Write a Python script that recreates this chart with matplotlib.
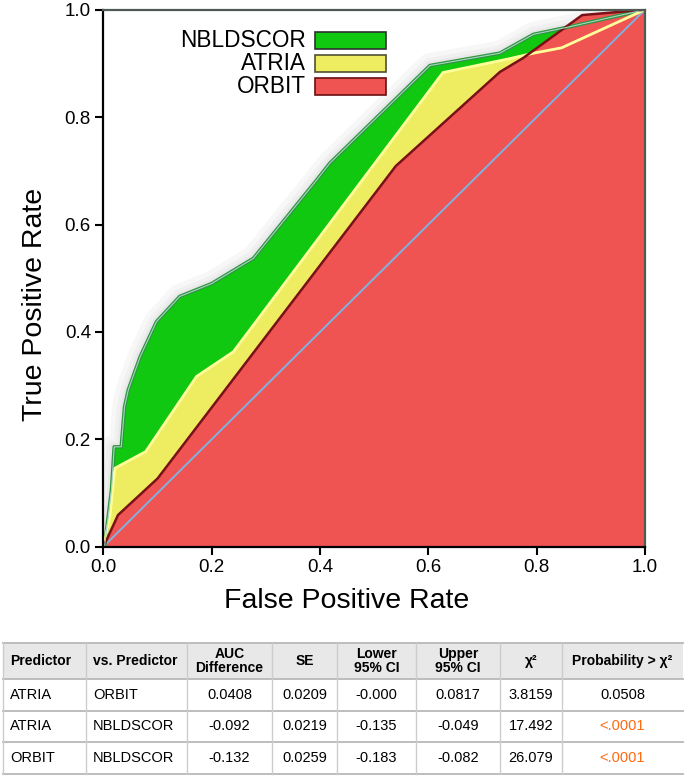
import matplotlib
matplotlib.use("Agg")
import matplotlib.pyplot as plt
from matplotlib.patches import Rectangle
import matplotlib.patheffects as pe

plt.rcParams['font.family'] = ['Liberation Sans', 'DejaVu Sans']

# ---- ROC curve data ----
nbl_fpr = [0.0, 0.002, 0.015, 0.020, 0.033, 0.039, 0.046, 0.068, 0.098, 0.141, 0.20, 0.277, 0.394, 0.418, 0.603, 0.732, 0.794, 0.855, 1.0]
nbl_tpr = [0.0, 0.0, 0.106, 0.186, 0.186, 0.26, 0.292, 0.354, 0.419, 0.466, 0.49, 0.537, 0.683, 0.714, 0.896, 0.919, 0.954, 0.967, 1.0]

atr_fpr = [0.0, 0.012, 0.021, 0.078, 0.172, 0.240, 0.627, 0.751, 0.794, 0.846, 1.0]
atr_tpr = [0.0, 0.056, 0.146, 0.177, 0.317, 0.363, 0.883, 0.909, 0.919, 0.929, 1.0]

orb_fpr = [0.0, 0.027, 0.100, 0.540, 0.732, 0.775, 0.884, 1.0]
orb_tpr = [0.0, 0.059, 0.127, 0.709, 0.884, 0.910, 0.990, 1.0]

legend_labels = ["NBLDSCOR", "ATRIA", "ORBIT"]
ticks = [0.0, 0.2, 0.4, 0.6, 0.8, 1.0]

# ---- table data ----
col_headers = ["Predictor", "vs. Predictor", "AUC\nDifference", "SE", "Lower\n95% CI", "Upper\n95% CI", "χ²", "Probability > χ²"]
predictor = ["ATRIA", "ATRIA", "ORBIT"]
vs_predictor = ["ORBIT", "NBLDSCOR", "NBLDSCOR"]
auc_diff = ["0.0408", "-0.092", "-0.132"]
se = ["0.0209", "0.0219", "0.0259"]
lower_ci = ["-0.000", "-0.135", "-0.183"]
upper_ci = ["0.0817", "-0.049", "-0.082"]
chi2 = ["3.8159", "17.492", "26.079"]
prob = ["0.0508", "<.0001", "<.0001"]

GREEN = "#10c810"
YELLOW = "#eeec60"
RED = "#ef5352"

W, H = 685, 783
fig = plt.figure(figsize=(W / 100, H / 100), dpi=100)

AX_W, AX_H = 541.6, 537.0
ax = fig.add_axes([103.4 / W, 1 - 546.7 / H, AX_W / W, AX_H / H])
ax.set_xlim(0, 1)
ax.set_ylim(0, 1)

# soft glow behind the curves
ax.plot(nbl_fpr, nbl_tpr, color="#e6e6e6", lw=1, zorder=1,
        path_effects=[pe.Stroke(linewidth=18, foreground="#f7f7f7"),
                      pe.Stroke(linewidth=11, foreground="#f0f0f0"),
                      pe.Stroke(linewidth=6, foreground="#e8e8e8")])

ax.fill_between(nbl_fpr, nbl_tpr, 0, color=GREEN, lw=0, zorder=2)
ax.fill_between(atr_fpr, atr_tpr, 0, color=YELLOW, lw=0, zorder=3)
ax.fill_between(orb_fpr, orb_tpr, 0, color=RED, lw=0, zorder=4)

# curve outlines
ax.plot(nbl_fpr, nbl_tpr, color="#2f9640", lw=2.6, zorder=6)
ax.plot(nbl_fpr, nbl_tpr, color="#a8d4c4", lw=0.8, zorder=7)
ax.plot(atr_fpr, atr_tpr, color="#ffff9a", lw=2.0, zorder=6)
ax.plot(orb_fpr, orb_tpr, color="#7a1018", lw=1.8, zorder=6)
ax.plot([0, 1], [0, 1], color="#7fb2e0", lw=1.4, zorder=5)

for s in ["left", "bottom"]:
    ax.spines[s].set_color("black")
    ax.spines[s].set_linewidth(1.6)
for s in ["top", "right"]:
    ax.spines[s].set_color("#505a55")
    ax.spines[s].set_linewidth(1.6)
for s in ax.spines.values():
    s.set_zorder(10)

ax.set_xticks(ticks)
ax.set_yticks(ticks)
ax.set_xticklabels([f"{t:.1f}" for t in ticks])
ax.set_yticklabels([f"{t:.1f}" for t in ticks])
ax.tick_params(direction="out", length=6, width=1.5, labelsize=13.5, pad=3)
ax.set_xlabel("False Positive Rate", fontsize=20.5, va="center")
ax.xaxis.set_label_coords((346.5 - 103.4) / AX_W, (546.7 - 600.7) / AX_H)
ax.set_ylabel("True Positive Rate", fontsize=20.5, va="center")
ax.yaxis.set_label_coords((35.5 - 103.4) / AX_W, (546.7 - 304) / AX_H)

# legend (manual, boxes to the right of labels)
fills = [GREEN, YELLOW, RED]
edges = ["#303030", "#505030", "#6a1010"]
box_x0, box_w = (315 - 103.4) / AX_W, 71 / AX_W
box_tops = [32, 55, 78]
for lab, fc, ec, top in zip(legend_labels, fills, edges, box_tops):
    y0 = (546.7 - (top + 16.5)) / AX_H
    ax.add_patch(Rectangle((box_x0, y0), box_w, 16.5 / AX_H, transform=ax.transAxes,
                           facecolor=fc, edgecolor=ec, lw=1.2, zorder=12))
    ax.text((306 - 103.4) / AX_W, y0 + 8.25 / AX_H, lab, transform=ax.transAxes,
            ha="right", va="center", fontsize=16.3, zorder=12)

# ---- table ----
tax = fig.add_axes([0, 0, 1, 1])
tax.set_xlim(0, W)
tax.set_ylim(H, 0)
tax.axis("off")

col_edges = [3, 86, 187, 272, 337, 416, 500, 562, 683]
row_edges = [643, 679, 711, 742, 774]
tax.add_patch(Rectangle((col_edges[0], row_edges[0]), col_edges[-1] - col_edges[0],
                        row_edges[1] - row_edges[0], facecolor="#e8e8e8", edgecolor="none"))
for yv in row_edges:
    tax.plot([col_edges[0], col_edges[-1]], [yv, yv], color="#b8b8b8", lw=1.3)
for xv in col_edges[:-1]:
    tax.plot([xv, xv], [row_edges[0], row_edges[-1]], color="#cccccc", lw=1.0)

columns = [predictor, vs_predictor, auc_diff, se, lower_ci, upper_ci, chi2, prob]
for j, head in enumerate(col_headers):
    cy = (row_edges[0] + row_edges[1]) / 2
    if j < 2:
        tax.text(col_edges[j] + 7, cy, head, ha="left", va="center", fontsize=10, fontweight="bold")
    else:
        tax.text((col_edges[j] + col_edges[j + 1]) / 2, cy, head, ha="center", va="center",
                 fontsize=10, fontweight="bold", linespacing=1.0)
    for i, val in enumerate(columns[j]):
        ry = (row_edges[i + 1] + row_edges[i + 2]) / 2
        color = "#ff6a10" if val.startswith("<") else "black"
        if j < 2:
            tax.text(col_edges[j] + 7, ry, val, ha="left", va="center", fontsize=10.5, color=color)
        else:
            tax.text((col_edges[j] + col_edges[j + 1]) / 2, ry, val, ha="center", va="center",
                     fontsize=10.5, color=color)

fig.savefig("out.png", dpi=100)
